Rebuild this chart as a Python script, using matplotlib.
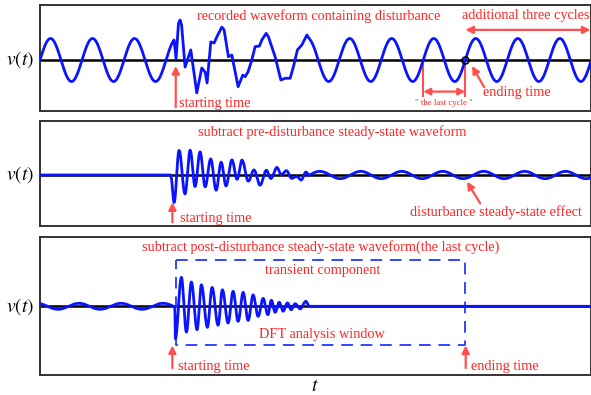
import numpy as np
import matplotlib
matplotlib.use("Agg")
import matplotlib.pyplot as plt

plt.rcParams['font.family'] = ['Liberation Serif', 'DejaVu Serif']
plt.rcParams['mathtext.fontset'] = 'stix'

# ---------------- data (time in ms, voltage in p.u.) ----------------
period = 20.0            # fundamental cycle (ms)
pre_zero = 0.0           # up-crossing of pre-disturbance waveform
post_zero = 202.4        # up-crossing of post-disturbance waveform (ending time)
start_time = 64.6        # starting time
end_time = 202.4         # ending time
last_cycle_start = 182.4

# recorded disturbance section (panel 1)
dist_t = [63.81, 64.76, 65.9, 66.67, 67.4, 69.05, 71.76, 74.62, 77.0, 78.57, 79.52,
          81.29, 82.86, 84.14, 86.52, 87.62, 89.67, 91.29, 94.29, 96.52, 97.62,
          99.05, 100.81, 102.38, 104.43, 105.57, 107.62, 108.71, 111.90, 114.62,
          116.67, 119.05, 120.62, 122.52, 124.62, 127.0, 128.57]
dist_v = [0.93, 0.05, 1.70, 1.86, 1.62, -0.33, 0.47, -1.53, -0.37, -0.56, -1.07,
          0.84, 0.79, 1.07, 1.53, 1.40, 0.15, 0.23, -1.24, -0.70, -0.78,
          -0.54, 0.0, 0.62, 0.65, 0.93, 1.24, 1.08, 0.15, -0.93,
          -0.85, -0.85, -0.31, 0.47, 0.70, 1.16, 0.93]

# transient extrema after subtracting pre-disturbance waveform (panel 2)
tr2_t = [62.38, 63.81, 66.19, 69.05, 71.43, 73.81, 76.19, 78.57, 81.29, 83.81, 86.19,
         88.57, 91.29, 93.81, 96.19, 99.05, 101.90, 104.76, 107.62, 110.0, 112.71,
         114.76, 117.48, 119.52, 122.24, 124.29, 126.52, 128.10]
tr2_v = [0.0, -1.12, 1.30, -0.84, 1.07, -0.70, 0.93, -0.60, 0.84, -0.54, 0.74,
         -0.47, 0.60, -0.37, 0.56, -0.28, 0.37, -0.31, 0.28, -0.23, 0.19,
         -0.14, 0.14, -0.09, 0.09, -0.07, 0.23, 0.0]
eff_amp = 0.17           # disturbance steady-state effect amplitude
eff_period = 19.5
eff_trough = 201.4

# transient extrema after subtracting post-disturbance waveform (panel 3)
tr3_t = [64.14, 64.43, 67.29, 69.67, 72.05, 74.76, 76.81, 79.67, 81.90, 84.76, 86.81,
         89.52, 91.90, 94.29, 96.67, 99.05, 101.43, 103.81, 106.19, 108.43, 110.14,
         111.90, 113.81, 115.71, 117.76, 119.52, 121.43, 123.81, 126.52, 128.10]
tr3_v = [0.0, -1.51, 1.35, -1.20, 1.13, -1.09, 1.00, -0.98, 0.88, -0.88, 0.77,
         -0.78, 0.70, -0.70, 0.65, -0.66, 0.53, -0.47, 0.37, -0.39, 0.28,
         -0.28, 0.19, -0.23, 0.16, -0.16, 0.12, -0.12, 0.23, 0.0]
p3_amp = 0.14
p3_peak = 58.57

# ---------------- helpers ----------------
def extrema_curve(ts, vs, n=16):
    out_t, out_v = [], []
    for i in range(len(ts) - 1):
        s = np.linspace(0, 1, n, endpoint=False)
        w = (1 - np.cos(np.pi * s)) / 2
        out_t.append(ts[i] + (ts[i + 1] - ts[i]) * s)
        out_v.append(vs[i] + (vs[i + 1] - vs[i]) * w)
    out_t.append([ts[-1]]); out_v.append([vs[-1]])
    return np.concatenate(out_t), np.concatenate(out_v)

t = np.linspace(0, 262, 6000)
RED_T = '#ff2525'
RED_A = '#ff5050'
BLUE = '#0a14ff'
FS = 10.25

fig = plt.figure(figsize=(5.91, 3.95), dpi=100)
W = 591.0; H = 395.0
def add_ax(top, bottom):
    return fig.add_axes([40 / W, 1 - bottom / H, 550.5 / W, (bottom - top) / H])

ax1 = add_ax(5.3, 110.7)
ax2 = add_ax(120.7, 225.7)
ax3 = add_ax(237, 375)
ax1.set_ylim(-2.358, 2.544)
ax2.set_ylim(-2.358, 2.526)
ax3.set_ylim(-3.195, 3.223)
for ax in (ax1, ax2, ax3):
    ax.set_xlim(0, 262)
    ax.set_xticks([]); ax.set_yticks([])
    for s in ax.spines.values():
        s.set_color('#333333'); s.set_linewidth(1.4)
    ax.axhline(0, color='black', lw=1.8, zorder=1)
    ax.text(-0.011, 0.0, r'$v(t)$', transform=ax.get_yaxis_transform(),
            ha='right', va='center', fontsize=14)

# ---- panel 1 ----
m_pre = t < dist_t[0]
m_post = t > dist_t[-1]
t1 = np.concatenate([t[m_pre], dist_t, t[m_post]])
v1 = np.concatenate([np.sin(2 * np.pi * (t[m_pre] - pre_zero) / period), dist_v,
                     np.sin(2 * np.pi * (t[m_post] - post_zero) / period)])
ax1.plot(t1, v1, color=BLUE, lw=2.0, zorder=3)
ax1.plot([end_time], [0], marker='o', ms=5, mfc='none', mec='black', mew=1.2, zorder=4)
ax1.text(132.6, 2.05, 'recorded waveform containing disturbance', color=RED_T,
         fontsize=FS, ha='center', va='center')
ax1.text(231.4, 2.05, 'additional three cycles', color=RED_T, fontsize=FS,
         ha='center', va='center')
ax1.annotate('', xy=(262, 1.40), xytext=(end_time, 1.40),
             arrowprops=dict(arrowstyle='<|-|>', color=RED_A, lw=1.6, mutation_scale=11,
                             shrinkA=0, shrinkB=0))
ax1.annotate('', xy=(start_time, -0.28), xytext=(start_time, -2.2),
             arrowprops=dict(arrowstyle='-|>', color=RED_A, lw=1.6, mutation_scale=11,
                             shrinkA=0, shrinkB=0))
ax1.text(66.0, -2.0, 'starting time', color=RED_T, fontsize=FS, ha='left', va='center')
ax1.annotate('', xy=(205.6, -0.28), xytext=(211.4, -1.26),
             arrowprops=dict(arrowstyle='-|>', color=RED_A, lw=1.6, mutation_scale=11,
                             shrinkA=0, shrinkB=0))
ax1.text(211.0, -1.53, 'ending time', color=RED_T, fontsize=FS, ha='left', va='center')
for x in (last_cycle_start, end_time):
    ax1.plot([x, x], [-0.1, -1.67], color=RED_A, lw=1.5, zorder=2)
ax1.annotate('', xy=(end_time, -1.47), xytext=(last_cycle_start, -1.47),
             arrowprops=dict(arrowstyle='<|-|>', color=RED_A, lw=1.6, mutation_scale=10,
                             shrinkA=0, shrinkB=0))
ax1.text(192.4, -2.02, '" the last cycle "', color=RED_T, fontsize=6.3,
         ha='center', va='center')

# ---- panel 2 ----
tt2, vv2 = extrema_curve(tr2_t, tr2_v)
eff = -eff_amp * np.cos(2 * np.pi * (t - eff_trough) / eff_period)
tr2_full = np.interp(t, tt2, vv2, left=0.0, right=0.0)
v2 = tr2_full + np.where(t >= tr2_t[0], eff, 0.0)
ax2.plot(t, v2, color=BLUE, lw=2.0, zorder=3)
ax2.text(138.9, 2.01, 'subtract pre-disturbance steady-state waveform', color=RED_T,
         fontsize=FS, ha='center', va='center')
ax2.annotate('', xy=(63.0, -1.27), xytext=(63.0, -2.2),
             arrowprops=dict(arrowstyle='-|>', color=RED_A, lw=1.6, mutation_scale=11,
                             shrinkA=0, shrinkB=0))
ax2.text(66.7, -2.01, 'starting time', color=RED_T, fontsize=FS, ha='left', va='center')
ax2.annotate('', xy=(203.2, -0.31), xytext=(209.5, -1.32),
             arrowprops=dict(arrowstyle='-|>', color=RED_A, lw=1.6, mutation_scale=11,
                             shrinkA=0, shrinkB=0))
ax2.text(217.1, -1.71, 'disturbance steady-state effect', color=RED_T, fontsize=FS,
         ha='center', va='center')

# ---- panel 3 ----
tt3, vv3 = extrema_curve(tr3_t, tr3_v)
tr3_full = np.interp(t, tt3, vv3, left=0.0, right=0.0)
pre3 = p3_amp * np.cos(2 * np.pi * (t - p3_peak) / period)
v3 = tr3_full + np.where(t < tr3_t[0], pre3, 0.0)
ax3.plot(t, v3, color=BLUE, lw=2.0, zorder=3)
ax3.plot([start_time, end_time, end_time, start_time, start_time],
         [2.15, 2.15, -1.80, -1.80, 2.15], color='#3344ff', lw=1.4,
         dashes=(6, 4), zorder=2)
ax3.text(133.6, 2.74, 'subtract post-disturbance steady-state waveform(the last cycle)',
         color=RED_T, fontsize=FS, ha='center', va='center')
ax3.text(134.5, 1.66, 'transient component', color=RED_T, fontsize=FS,
         ha='center', va='center')
ax3.text(134.1, -1.33, 'DFT analysis window', color=RED_T, fontsize=FS,
         ha='center', va='center')
for x, lab in ((63.0, 'starting time'), (202.6, 'ending time')):
    ax3.annotate('', xy=(x, -1.82), xytext=(x, -2.87),
                 arrowprops=dict(arrowstyle='-|>', color=RED_A, lw=1.6, mutation_scale=11,
                                 shrinkA=0, shrinkB=0))
    ax3.text(x + 2.5, -2.78, lab, color=RED_T, fontsize=FS, ha='left', va='center')
ax3.set_xlabel(r'$t$', fontsize=14, labelpad=2)

fig.savefig('out.png', dpi=100)
